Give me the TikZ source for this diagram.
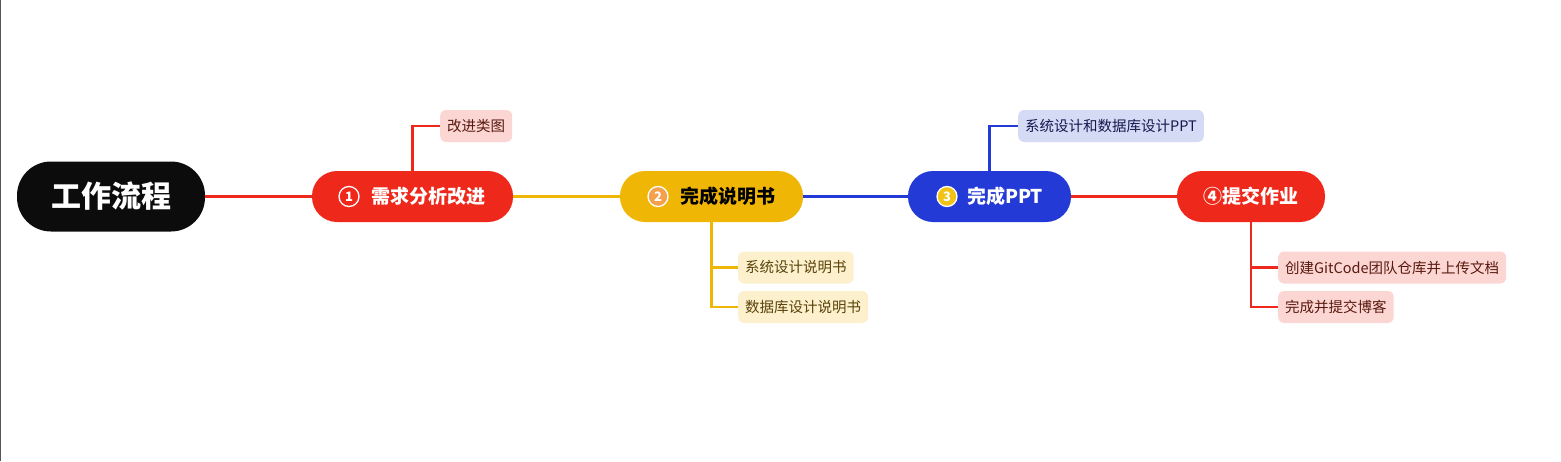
\documentclass[tikz,border=0pt]{standalone}
\usepackage{fontspec}
\setmainfont{Noto Sans CJK SC}
\definecolor{mred}{RGB}{238,41,27}
\definecolor{myel}{RGB}{240,182,6}
\definecolor{mblue}{RGB}{35,58,214}
\definecolor{mblack}{RGB}{12,12,12}
\definecolor{bpink}{RGB}{251,214,210}
\definecolor{byel}{RGB}{252,241,204}
\definecolor{bblue}{RGB}{214,219,245}
\definecolor{tpink}{RGB}{90,25,15}
\definecolor{tyel}{RGB}{90,65,10}
\definecolor{tblue}{RGB}{20,25,80}
\definecolor{iorange}{RGB}{245,160,75}
\definecolor{iyel}{RGB}{240,195,20}
\definecolor{edgegray}{RGB}{85,85,85}
\begin{document}
\begin{tikzpicture}[x=1pt,y=-1pt,
  mainbox/.style={rectangle, rounded corners=25pt, minimum height=51pt, inner sep=0pt,
    font=\bfseries\fontsize{19}{21}\selectfont, text=white},
  leafbox/.style={rectangle, rounded corners=6pt, minimum height=32pt, inner xsep=7pt,
    inner ysep=0pt, font=\fontsize{14.5}{16}\selectfont, anchor=west},
  conn/.style={line width=2.3pt},
  numicon/.style={circle, draw=white, line width=1.3pt, minimum size=20pt, inner sep=0pt,
    text=white, font=\bfseries\fontsize{13}{13}\selectfont}
]
\useasboundingbox (0,0) rectangle (1561,461);
\draw[edgegray, line width=1pt] (0.5,0) -- (0.5,461);

\coordinate (rootc) at (111,196.5);
\coordinate (n1c) at (412.5,196.5);
\coordinate (n2c) at (711.5,196.5);
\coordinate (n3c) at (989.5,196.5);
\coordinate (n4c) at (1251,196.5);

% main nodes
\node[rectangle, rounded corners=34pt, minimum width=188pt, minimum height=70pt, inner sep=0pt,
  fill=mblack, text=white, font=\bfseries\fontsize{30}{32}\selectfont] (root) at (rootc) {工作流程};
\node[mainbox, fill=mred, minimum width=201pt] (n1) at (n1c) {\hspace*{32pt}需求分析改进};
\node[mainbox, fill=myel, minimum width=183pt, text=black] (n2) at (n2c) {\hspace*{32pt}完成说明书};
\node[mainbox, fill=mblue, minimum width=163pt] (n3) at (n3c) {\hspace*{31pt}完成PPT};
\node[mainbox, fill=mred, minimum width=148pt] (n4) at (n4c) {④提交作业};

% icons
\node[numicon, fill=mred] (i1) at (349,196.5) {1};
\node[numicon, fill=iorange] (i2) at (658,196.5) {2};
\node[numicon, fill=iyel] (i3) at (947,196.5) {3};

% leaves
\node[leafbox, fill=bpink, text=tpink] (c1) at (440,126) {改进类图};
\node[leafbox, fill=byel, text=tyel] (c2a) at (738,267.5) {系统设计说明书};
\node[leafbox, fill=byel, text=tyel] (c2b) at (738,307) {数据库设计说明书};
\node[leafbox, fill=bblue, text=tblue] (c3) at (1018,126) {系统设计和数据库设计PPT};
\node[leafbox, fill=bpink, text=tpink] (c4a) at (1278,267.5) {创建GitCode团队仓库并上传文档};
\node[leafbox, fill=bpink, text=tpink] (c4b) at (1278,307) {完成并提交博客};

\draw[conn, mred] (root.east) -- (n1.west);
\draw[conn, myel] (n1.east) -- (n2.west);
\draw[conn, mblue] (n2.east) -- (n3.west);
\draw[conn, mred] (n3.east) -- (n4.west);
\draw[conn, mred] (n1.north) |- (c1.west);
\draw[conn, myel] (n2.south) |- (c2a.west);
\draw[conn, myel] (n2.south) |- (c2b.west);
\draw[conn, mblue] (n3.north) |- (c3.west);
\draw[conn, mred] (n4.south) |- (c4a.west);
\draw[conn, mred] (n4.south) |- (c4b.west);
\end{tikzpicture}
\end{document}
